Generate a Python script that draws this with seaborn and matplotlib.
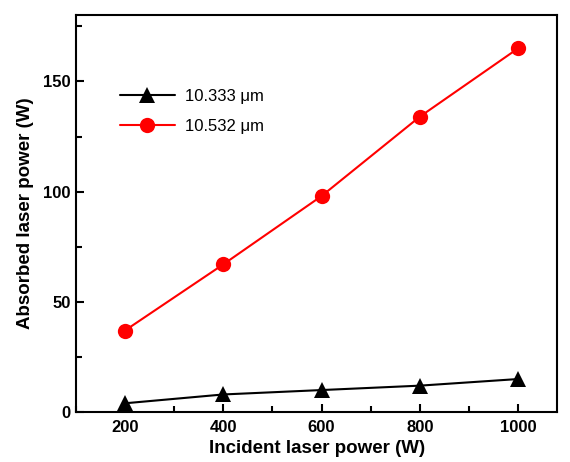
import matplotlib
matplotlib.use("Agg")
import matplotlib.pyplot as plt
import seaborn as sns
import pandas as pd
from matplotlib.ticker import MultipleLocator

incident = [200, 400, 600, 800, 1000]
absorbed_10333 = [4, 8, 10, 12, 15]
absorbed_10532 = [37, 67, 98, 134, 165]

df = pd.DataFrame({
    "Incident": incident * 2,
    "Absorbed": absorbed_10333 + absorbed_10532,
    "Wavelength": ["10.333 \u03bcm"] * 5 + ["10.532 \u03bcm"] * 5,
})

sns.set_style("ticks")
plt.rcParams["font.family"] = ["Liberation Sans", "DejaVu Sans"]
plt.rcParams["text.color"] = "black"
plt.rcParams["axes.labelcolor"] = "black"
plt.rcParams["xtick.color"] = "black"
plt.rcParams["ytick.color"] = "black"

fig, ax = plt.subplots(figsize=(5.7, 4.62), dpi=100)
sns.lineplot(data=df, x="Incident", y="Absorbed", hue="Wavelength", style="Wavelength",
             palette=["black", "#ff0000"], markers=["^", "o"], dashes=False,
             markersize=11, linewidth=1.5, markeredgewidth=0, ax=ax)

ax.set_xlim(100, 1080)
ax.set_ylim(0, 180)
ax.xaxis.set_major_locator(MultipleLocator(200))
ax.xaxis.set_minor_locator(MultipleLocator(100))
ax.yaxis.set_major_locator(MultipleLocator(50))
ax.yaxis.set_minor_locator(MultipleLocator(25))
ax.tick_params(which="both", direction="in", top=False, right=False, width=1.5)
ax.tick_params(which="major", length=6, labelsize=12)
ax.tick_params(axis="x", which="major", pad=6)
ax.tick_params(which="minor", length=4)
for lab in ax.get_xticklabels() + ax.get_yticklabels():
    lab.set_fontweight("bold")
for sp in ax.spines.values():
    sp.set_linewidth(1.5)
    sp.set_color("black")

ax.set_xlabel("Incident laser power (W)", fontsize=13.5, fontweight="bold", labelpad=3)
ax.set_ylabel("Absorbed laser power (W)", fontsize=13.5, fontweight="bold", labelpad=7)

leg = ax.legend(loc="upper left", bbox_to_anchor=(0.077, 0.831), borderaxespad=0,
                frameon=False, fontsize=12, handlelength=3.3, handletextpad=0.6,
                labelspacing=0.9)

fig.subplots_adjust(left=0.133, right=0.978, top=0.967, bottom=0.108)
fig.savefig("out.png", dpi=100)
